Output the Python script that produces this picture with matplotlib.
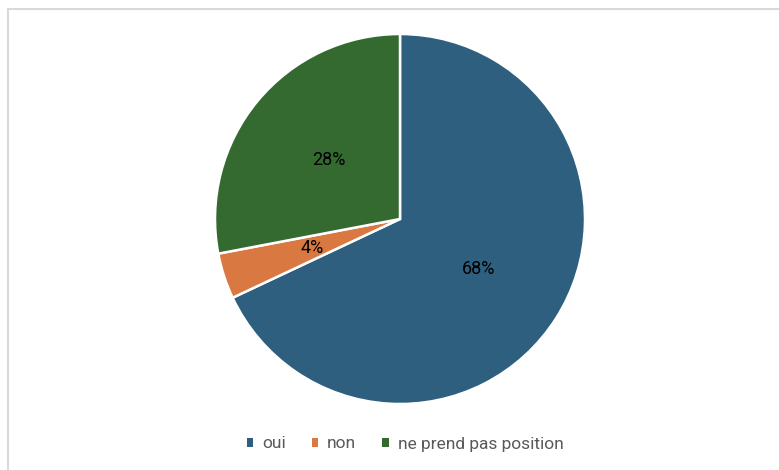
import matplotlib
matplotlib.use('Agg')
import matplotlib.pyplot as plt
from matplotlib.patches import Rectangle

labels = ['oui', 'non', 'ne prend pas position']
values = [68, 4, 28]
colors = ['#2E5F7E', '#DA7841', '#346A30']

W, H = 779, 470
fig = plt.figure(figsize=(W / 100, H / 100), dpi=100)
plt.rcParams['font.family'] = ['Roboto', 'DejaVu Sans']

# light gray frame around the chart area
fig.patches.append(Rectangle((8 / W, -0.1), 1.2, (H - 9) / H + 0.1,
                             transform=fig.transFigure, fill=False,
                             edgecolor='#D9D9D9', linewidth=1.5))

ax = fig.add_axes([0, 0, 1, 1])
ax.set_xlim(0, W)
ax.set_ylim(0, H)
ax.axis('off')

wedges, texts, autotexts = ax.pie(
    values, colors=colors, startangle=90, counterclock=False,
    center=(400, H - 219), radius=185, autopct='%d%%', pctdistance=0.5,
    wedgeprops=dict(edgecolor='white', linewidth=1.8),
    textprops=dict(fontsize=13, color='black'))
ax.set_aspect('equal')
ax.set_xlim(0, W)
ax.set_ylim(0, H)

leg = ax.legend(wedges, labels, loc='center', bbox_to_anchor=(405 / W, 1 - 444 / H),
                ncol=3, frameon=False, fontsize=12.5, handlelength=0.38,
                handleheight=0.38, handletextpad=0.5, columnspacing=1.5)
for t in leg.get_texts():
    t.set_color('#595959')
for h in leg.legend_handles:
    h.set_edgecolor('none')

fig.savefig('out.png', dpi=100)
